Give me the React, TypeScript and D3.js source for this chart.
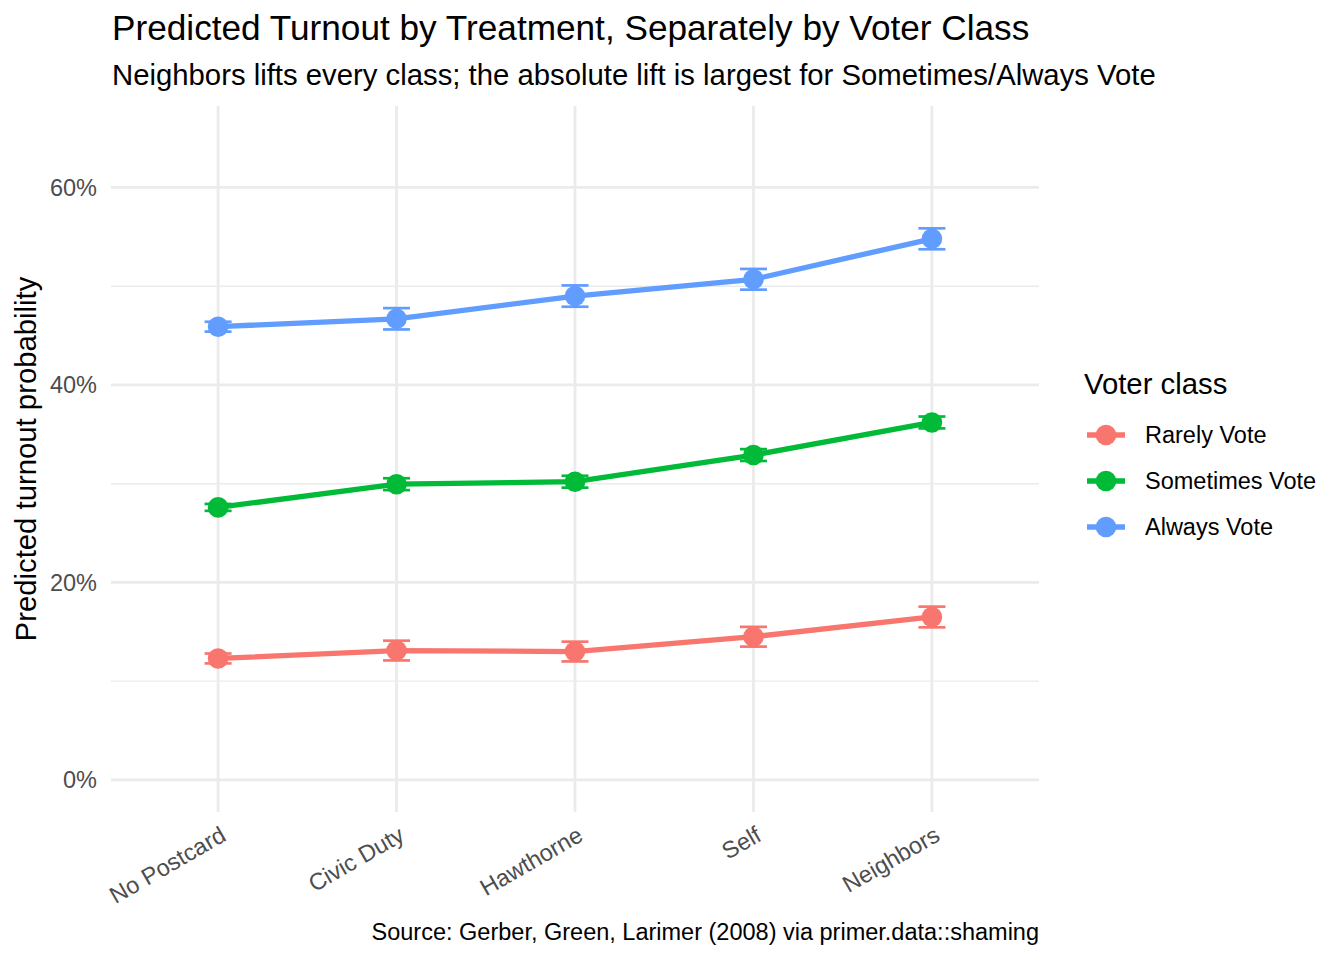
import React from "react";
import * as d3 from "d3";

const categories = ["No Postcard", "Civic Duty", "Hawthorne", "Self", "Neighbors"];
const seriesNames = ["Rarely Vote", "Sometimes Vote", "Always Vote"];
const seriesColors = ["#F8766D", "#00BA38", "#619CFF"];
const rarelyVote = [0.123, 0.131, 0.130, 0.145, 0.165];
const rarelyErr = [0.005, 0.010, 0.010, 0.010, 0.0105];
const sometimesVote = [0.276, 0.2995, 0.302, 0.329, 0.362];
const sometimesErr = [0.0035, 0.006, 0.006, 0.006, 0.006];
const alwaysVote = [0.459, 0.467, 0.490, 0.507, 0.548];
const alwaysErr = [0.005, 0.0108, 0.0108, 0.0105, 0.0106];
const yTicks = [0, 0.2, 0.4, 0.6];
const yMinor = [0.1, 0.3, 0.5];

const title = "Predicted Turnout by Treatment, Separately by Voter Class";
const subtitle = "Neighbors lifts every class; the absolute lift is largest for Sometimes/Always Vote";
const caption = "Source: Gerber, Green, Larimer (2008) via primer.data::shaming";
const yTitle = "Predicted turnout probability";
const legendTitle = "Voter class";

const W = 1344;
const H = 960;
const panel = { left: 111, right: 1039, top: 106, bottom: 812 };
const FONT = "'Liberation Sans', Arial, Helvetica, sans-serif";

export default function App() {
  const x = d3
    .scalePoint<string>()
    .domain(categories)
    .range([panel.left, panel.right])
    .padding(0.6);
  const y = d3.scaleLinear().domain([-0.0325, 0.6825]).range([panel.bottom, panel.top]);

  const series = [
    { name: seriesNames[0], color: seriesColors[0], values: rarelyVote, err: rarelyErr },
    { name: seriesNames[1], color: seriesColors[1], values: sometimesVote, err: sometimesErr },
    { name: seriesNames[2], color: seriesColors[2], values: alwaysVote, err: alwaysErr },
  ];

  const line = d3
    .line<number>()
    .x((_, i) => x(categories[i]) as number)
    .y((v) => y(v));

  const fmt = d3.format(".0%");
  const capHalf = 13.5;
  const lw = 5.3;
  const pr = 10.3;

  return (
    <svg
      width={W}
      height={H}
      style={{ position: "absolute", left: 0, top: 0, background: "#fff" }}
      fontFamily={FONT}
    >
      {/* grid */}
      {yMinor.map((t) => (
        <line key={"mi" + t} x1={panel.left} x2={panel.right} y1={y(t)} y2={y(t)} stroke="#EBEBEB" strokeWidth={1.4} />
      ))}
      {yTicks.map((t) => (
        <line key={"ma" + t} x1={panel.left} x2={panel.right} y1={y(t)} y2={y(t)} stroke="#EBEBEB" strokeWidth={2.8} />
      ))}
      {categories.map((c) => (
        <line key={"v" + c} x1={x(c)} x2={x(c)} y1={panel.top} y2={panel.bottom} stroke="#EBEBEB" strokeWidth={2.8} />
      ))}

      {/* y tick labels */}
      {yTicks.map((t) => (
        <text key={"yl" + t} x={97} y={y(t)} dy="0.36em" textAnchor="end" fontSize={23.5} fill="#4D4D4D">
          {fmt(t)}
        </text>
      ))}

      {/* x tick labels */}
      {categories.map((c) => (
        <text
          key={"xl" + c}
          transform={`translate(${(x(c) as number) + 1},${825}) rotate(-30)`}
          dy="0.72em"
          textAnchor="end"
          fontSize={23.5}
          fill="#4D4D4D"
        >
          {c}
        </text>
      ))}

      {/* series */}
      {series.map((s) => (
        <g key={s.name}>
          {s.values.map((v, i) => {
            const cx = x(categories[i]) as number;
            const lo = y(v - s.err[i]);
            const hi = y(v + s.err[i]);
            return (
              <g key={i} stroke={s.color} strokeWidth={2.7}>
                <line x1={cx} x2={cx} y1={lo} y2={hi} />
                <line x1={cx - capHalf} x2={cx + capHalf} y1={lo} y2={lo} />
                <line x1={cx - capHalf} x2={cx + capHalf} y1={hi} y2={hi} />
              </g>
            );
          })}
          <path d={line(s.values) || ""} fill="none" stroke={s.color} strokeWidth={lw} />
          {s.values.map((v, i) => (
            <circle key={"p" + i} cx={x(categories[i])} cy={y(v)} r={pr} fill={s.color} />
          ))}
        </g>
      ))}

      {/* titles */}
      <text x={112} y={40} fontSize={35.2} fill="#000">
        {title}
      </text>
      <text x={112} y={85} fontSize={29.3} fill="#000">
        {subtitle}
      </text>
      <text x={1039} y={940} textAnchor="end" fontSize={23.5} fill="#000">
        {caption}
      </text>
      <text
        transform={`translate(36,${(panel.top + panel.bottom) / 2}) rotate(-90)`}
        textAnchor="middle"
        fontSize={29.3}
        fill="#000"
      >
        {yTitle}
      </text>

      {/* legend */}
      <text x={1084} y={394} fontSize={29.3} fill="#000">
        {legendTitle}
      </text>
      {series.map((s, i) => {
        const ky = 435 + i * 46;
        return (
          <g key={"lg" + s.name}>
            <line x1={1087} x2={1125} y1={ky} y2={ky} stroke={s.color} strokeWidth={lw} />
            <circle cx={1106} cy={ky} r={pr} fill={s.color} />
            <text x={1145} y={ky} dy="0.36em" fontSize={23.5} fill="#000">
              {s.name}
            </text>
          </g>
        );
      })}
    </svg>
  );
}
